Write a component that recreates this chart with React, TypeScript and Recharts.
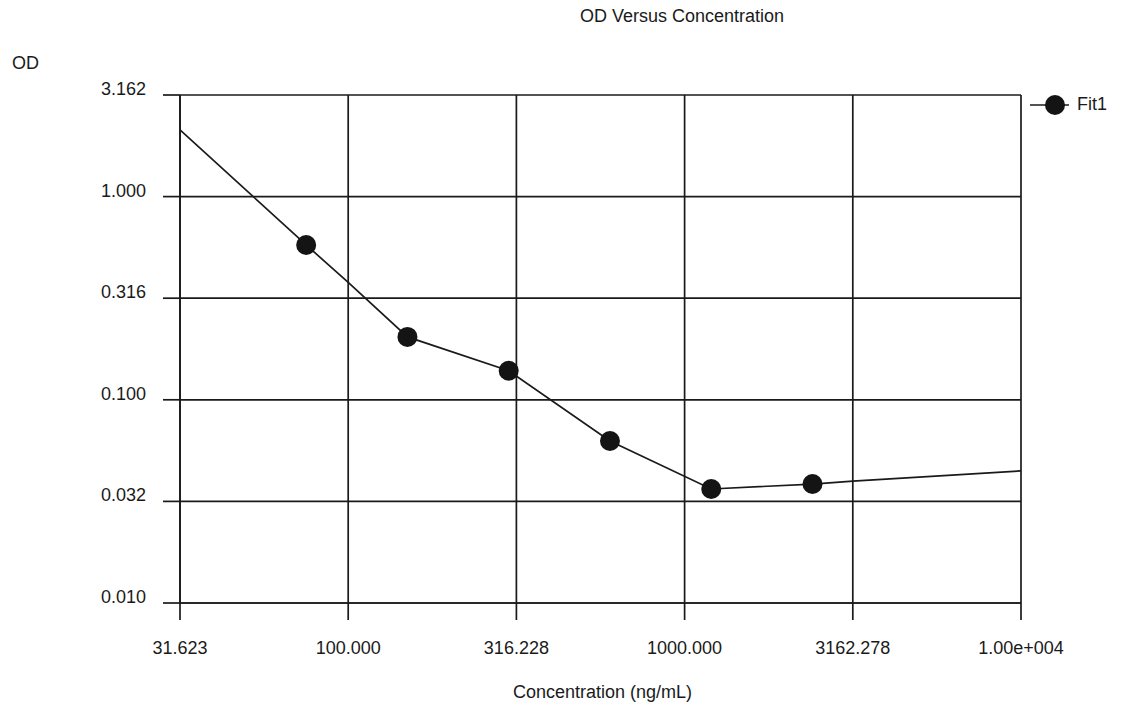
import React from 'react';
import { ComposedChart, Line, Scatter, XAxis, YAxis, CartesianGrid } from 'recharts';

// x axis: concentration (ng/mL), half-decade ticks
const concTicks = [31.623, 100, 316.228, 1000, 3162.278, 10000];
const concTickLabels = ['31.623', '100.000', '316.228', '1000.000', '3162.278', '1.00e+004'];

// y axis: OD, half-decade ticks
const odTicks = [0.01, 0.031623, 0.1, 0.316228, 1, 3.162];
const odTickLabels = ['0.010', '0.032', '0.100', '0.316', '1.000', '3.162'];

// standards (measured points)
const stdConc = [75, 150, 300, 600, 1200, 2400];
const stdOd = [0.578, 0.204, 0.139, 0.0627, 0.0364, 0.0385];

// fitted curve
const fitConc = [31.623, 75, 100, 150, 300, 600, 1200, 2400, 3162.278, 10000];
const fitOd = [2.13, 0.578, 0.378, 0.204, 0.139, 0.0627, 0.0364, 0.0385, 0.0398, 0.0447];

const standards = stdConc.map((c, i) => ({ conc: c, od: stdOd[i] }));
const fitCurve = fitConc.map((c, i) => ({ conc: c, od: fitOd[i] }));

const FONT = '"Liberation Sans", Arial, sans-serif';
const INK = '#1a1a1a';

function XTick({ x, y, payload }: any) {
  const i = concTicks.indexOf(payload.value);
  return (
    <text x={x} y={y + 28} textAnchor="middle" dominantBaseline="central" fontFamily={FONT} fontSize={18} fill={INK}>
      {concTickLabels[i] ?? payload.value}
    </text>
  );
}

function YTick({ x, y, payload }: any) {
  const i = odTicks.indexOf(payload.value);
  return (
    <text x={x - 17} y={y - 6} textAnchor="end" dominantBaseline="central" fontFamily={FONT} fontSize={18} fill={INK}>
      {odTickLabels[i] ?? payload.value}
    </text>
  );
}

const textStyle: React.CSSProperties = {
  position: 'absolute',
  fontFamily: FONT,
  fontSize: 18,
  lineHeight: '20px',
  color: INK,
  whiteSpace: 'nowrap',
};

export default function App() {
  return (
    <div style={{ position: 'absolute', left: 0, top: 0, width: 1124, height: 710, background: '#fff' }}>
      <ComposedChart width={1124} height={710} margin={{ top: 95, right: 103, bottom: 47, left: 100 }}>
        <CartesianGrid stroke={INK} strokeWidth={1.7} />
        <XAxis
          dataKey="conc"
          type="number"
          scale="log"
          domain={[31.623, 10000]}
          ticks={concTicks}
          allowDataOverflow
          height={60}
          tickSize={17}
          tickMargin={0}
          tickLine={{ stroke: INK, strokeWidth: 1.7 }}
          axisLine={{ stroke: INK, strokeWidth: 1.7 }}
          tick={<XTick />}
        />
        <YAxis
          dataKey="od"
          type="number"
          scale="log"
          domain={[0.01, 3.162]}
          ticks={odTicks}
          allowDataOverflow
          width={80}
          tickSize={17}
          tickMargin={0}
          tickLine={{ stroke: INK, strokeWidth: 1.7 }}
          axisLine={{ stroke: INK, strokeWidth: 1.7 }}
          tick={<YTick />}
        />
        <Line
          data={fitCurve}
          dataKey="od"
          type="linear"
          stroke={INK}
          strokeWidth={1.7}
          dot={false}
          activeDot={false}
          isAnimationActive={false}
        />
        <Scatter
          data={standards}
          dataKey="od"
          isAnimationActive={false}
          shape={(p: any) => <circle cx={p.cx} cy={p.cy} r={10} fill="#141414" />}
        />
      </ComposedChart>

      <div style={{ ...textStyle, left: 580, top: 6 }}>OD Versus Concentration</div>
      <div style={{ ...textStyle, left: 12, top: 53 }}>OD</div>
      <div style={{ ...textStyle, left: 513, top: 682 }}>Concentration (ng/mL)</div>

      {/* Legend */}
      <svg style={{ position: 'absolute', left: 1026, top: 93 }} width={48} height={24}>
        <line x1={4} y1={12} x2={43} y2={12} stroke={INK} strokeWidth={1.7} />
        <circle cx={29} cy={12} r={10} fill="#141414" />
      </svg>
      <div style={{ ...textStyle, left: 1077, top: 94 }}>Fit1</div>
    </div>
  );
}
